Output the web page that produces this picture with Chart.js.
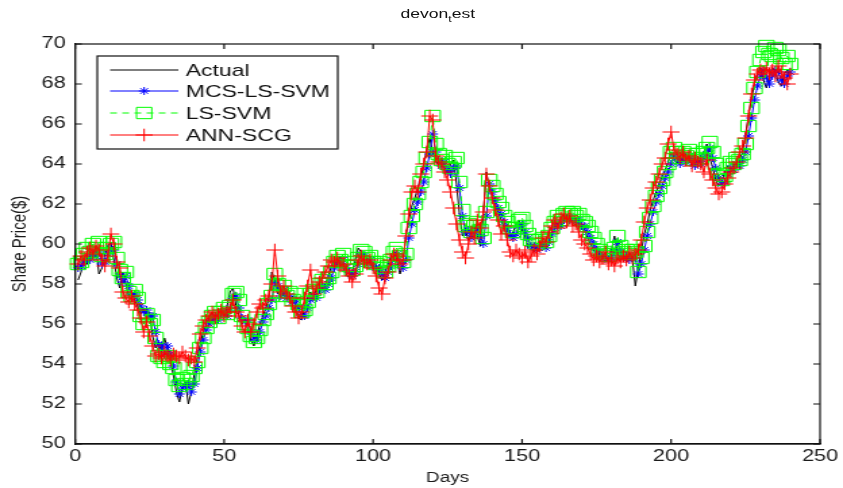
<!DOCTYPE html>
<html>
<head>
<meta charset="utf-8">
<script src="https://cdn.jsdelivr.net/npm/chart.js@4/dist/chart.umd.min.js"></script>
<style>
  html, body { margin: 0; padding: 0; background: #fff; overflow: hidden; }
  #wrap { position: relative; width: 624px; height: 488px; transform: scaleX(1.351); transform-origin: 0 0; }
  #plot { position: absolute; left: 0; top: 0; }
  #title { position: absolute; left: 0; width: 648px; top: 6px; text-align: center;
           font: 13px "Liberation Sans", Arial, sans-serif; color: #111; line-height: 15px; }
  #title sub { font-size: 9px; vertical-align: -4px; }
</style>
</head>
<body>
<div id="wrap">
  <canvas id="plot" width="624" height="488"></canvas>
  <div id="title">devon<sub>t</sub>est</div>
</div>
<script>
// Daily share prices (days 1..240) and the three model forecasts
const actual = [
  58.2, 58.6, 59.3, 59.0, 59.6, 59.3, 59.8, 58.5, 58.8, 59.5,
  59.9, 60.1, 59.2, 58.3, 57.8, 58.6, 58.0, 57.4, 57.6, 57.2,
  56.9, 56.5, 56.8, 56.3, 56.6, 55.4, 54.8, 55.1, 54.6, 55.3,
  54.8, 54.2, 53.4, 52.6, 52.1, 52.8, 53.1, 52.0, 52.6, 53.5,
  54.3, 55.0, 55.6, 56.0, 56.3, 56.6, 56.2, 56.5, 56.8, 56.4,
  56.9, 57.6, 57.8, 56.9, 56.4, 56.0, 56.3, 55.7, 55.2, 54.9,
  55.4, 56.0, 56.4, 56.8, 57.3, 58.6, 58.2, 57.5, 57.9, 57.4,
  57.6, 57.1, 57.4, 56.8, 56.3, 56.2, 56.8, 57.3, 57.6, 57.3,
  57.8, 58.1, 57.7, 58.0, 58.4, 58.9, 59.2, 59.0, 59.4, 58.8,
  58.5, 58.3, 58.6, 59.2, 59.8, 59.6, 59.1, 59.3, 59.0, 58.8,
  58.9, 58.5, 58.2, 58.6, 59.0, 59.4, 59.7, 59.2, 58.5, 59.0,
  60.4, 61.2, 61.9, 62.3, 62.8, 63.3, 64.0, 64.7, 65.3, 64.6,
  64.2, 63.9, 64.3, 63.8, 63.5, 64.0, 64.2, 63.0, 61.5, 60.4,
  60.7, 60.2, 60.6, 60.9, 60.4, 59.9, 61.5, 63.6, 62.8, 62.4,
  62.0, 61.6, 61.2, 60.8, 60.5, 60.3, 60.6, 61.0, 61.2, 60.7,
  60.4, 59.8, 59.9, 59.6, 59.9, 60.1, 59.8, 60.2, 60.6, 60.9,
  61.1, 60.9, 61.3, 61.5, 61.2, 61.4, 61.1, 61.3, 60.9, 61.0,
  60.7, 60.3, 60.0, 59.7, 59.5, 59.3, 59.4, 59.1, 59.3, 59.7,
  60.4, 59.6, 59.2, 59.4, 59.1, 59.5, 59.3, 57.9, 58.8, 59.6,
  60.5, 61.0, 61.7, 62.2, 62.6, 63.0, 63.4, 63.7, 64.1, 64.6,
  64.3, 64.0, 64.4, 64.1, 64.5, 64.2, 63.9, 64.3, 64.0, 64.4,
  64.6, 65.0, 64.3, 63.8, 63.2, 62.9, 63.1, 63.6, 63.9, 63.7,
  64.0, 63.8, 64.2, 64.6, 65.5, 66.4, 67.3, 68.0, 68.5, 68.8,
  68.2, 67.8, 68.4, 68.8, 68.6, 68.1, 67.9, 68.5, 68.7, 68.3
];

const mcsLsSvm = [
  58.8, 58.9, 59.1, 59.3, 59.2, 59.5, 59.4, 59.6, 59.0, 59.1,
  59.5, 59.8, 59.7, 59.0, 58.4, 58.1, 58.4, 57.9, 57.5, 57.5,
  57.2, 56.9, 56.6, 56.7, 56.4, 56.4, 55.6, 55.0, 54.9, 54.5,
  54.9, 54.5, 53.9, 53.1, 52.5, 52.8, 52.9, 53.0, 52.6, 53.0,
  53.8, 54.6, 55.2, 55.7, 56.0, 56.2, 56.4, 56.2, 56.5, 56.6,
  56.4, 56.8, 57.3, 57.4, 56.8, 56.3, 56.1, 56.2, 55.6, 55.3,
  55.2, 55.6, 56.1, 56.4, 56.8, 57.2, 58.1, 57.9, 57.4, 57.7,
  57.3, 57.4, 57.1, 57.2, 56.8, 56.4, 56.4, 56.8, 57.2, 57.4,
  57.3, 57.7, 57.9, 57.7, 58.0, 58.3, 58.8, 59.0, 59.0, 59.2,
  58.8, 58.6, 58.4, 58.6, 59.0, 59.5, 59.4, 59.1, 59.2, 58.9,
  58.8, 58.8, 58.5, 58.3, 58.6, 58.9, 59.3, 59.5, 59.1, 58.8,
  59.2, 60.3, 61.0, 61.7, 62.1, 62.6, 63.1, 63.8, 64.5, 65.5,
  64.6, 64.2, 63.9, 64.1, 63.7, 63.5, 63.8, 63.9, 62.8, 61.4,
  60.6, 60.7, 60.3, 60.6, 60.8, 60.4, 60.0, 61.4, 63.0, 62.6,
  62.2, 61.8, 61.5, 61.1, 60.8, 60.5, 60.3, 60.5, 60.9, 61.0,
  60.6, 60.3, 59.9, 59.9, 59.7, 59.9, 60.0, 59.8, 60.1, 60.5,
  60.8, 61.0, 60.9, 61.2, 61.3, 61.2, 61.3, 61.1, 61.2, 60.9,
  60.9, 60.6, 60.3, 60.0, 59.7, 59.5, 59.3, 59.4, 59.2, 59.3,
  59.6, 60.1, 59.6, 59.3, 59.4, 59.2, 59.4, 59.3, 58.5, 59.0,
  59.7, 60.4, 61.0, 61.6, 62.1, 62.5, 62.9, 63.3, 63.6, 64.0,
  64.4, 64.3, 64.0, 64.3, 64.1, 64.4, 64.2, 63.9, 64.2, 64.0,
  64.3, 64.5, 64.8, 64.3, 63.8, 63.3, 63.0, 63.1, 63.5, 63.8,
  63.7, 64.0, 63.9, 64.2, 64.6, 65.4, 66.3, 67.2, 67.9, 68.4,
  68.7, 68.3, 68.0, 68.4, 68.7, 68.6, 68.2, 68.0, 68.4, 68.6
];

const lsSvm = [
  59.0, 59.1, 59.5, 59.8, 59.6, 60.0, 59.8, 60.1, 59.4, 59.5,
  59.8, 60.0, 60.1, 59.3, 58.7, 58.3, 58.6, 57.6, 57.4, 57.7,
  57.3, 56.4, 56.0, 56.5, 56.0, 56.2, 55.3, 54.4, 54.3, 54.1,
  54.4, 54.0, 53.8, 53.2, 52.9, 53.3, 53.0, 53.2, 53.4, 53.8,
  54.1, 54.8, 55.3, 55.8, 56.1, 56.4, 56.6, 56.3, 56.6, 56.8,
  56.5, 56.9, 57.5, 57.6, 57.2, 56.4, 56.0, 55.8, 55.4, 55.1,
  55.3, 55.7, 56.2, 56.5, 57.0, 57.4, 58.5, 58.0, 57.6, 57.9,
  57.4, 57.6, 57.2, 57.5, 57.0, 56.6, 56.7, 57.1, 57.5, 57.7,
  57.6, 58.0, 58.2, 58.0, 58.3, 58.6, 59.1, 59.4, 59.2, 59.5,
  59.1, 58.9, 58.7, 58.9, 59.3, 59.7, 59.6, 59.3, 59.4, 59.1,
  59.0, 59.1, 58.8, 58.6, 58.9, 59.2, 59.6, 59.8, 59.4, 59.1,
  59.5, 60.8, 61.4, 62.0, 62.5, 63.1, 63.6, 64.3, 65.1, 66.4,
  65.0, 64.5, 64.2, 64.4, 64.0, 63.8, 64.1, 64.3, 63.1, 61.7,
  60.9, 61.0, 60.6, 60.9, 61.1, 60.7, 60.3, 61.6, 63.2, 62.9,
  62.5, 62.1, 61.8, 61.4, 61.1, 60.8, 60.6, 60.8, 61.2, 61.3,
  60.9, 60.5, 60.2, 60.2, 60.0, 60.2, 60.3, 60.1, 60.4, 60.8,
  61.1, 61.4, 61.2, 61.5, 61.6, 61.5, 61.6, 61.4, 61.5, 61.2,
  61.1, 60.9, 60.6, 60.3, 60.0, 59.7, 59.5, 59.6, 59.4, 59.5,
  59.8, 60.4, 59.9, 59.6, 59.7, 59.5, 59.7, 59.6, 58.6, 59.3,
  59.9, 60.6, 61.3, 61.9, 62.4, 62.8, 63.2, 63.6, 64.0, 64.6,
  64.8, 64.6, 64.3, 64.6, 64.4, 64.7, 64.5, 64.2, 64.5, 64.3,
  64.6, 64.8, 65.1, 64.6, 64.0, 63.5, 63.2, 63.4, 63.8, 64.1,
  64.0, 64.3, 64.2, 64.5, 65.0, 65.9, 66.8, 67.8, 68.6, 69.2,
  69.6, 69.9, 69.5, 69.4, 69.8, 69.7, 69.3, 69.0, 69.4, 69.0
];

const annScg = [
  59.0, 59.4, 59.2, 59.6, 59.8, 59.5, 59.9, 59.7, 59.2, 58.9,
  59.4, 60.5, 60.0, 59.1, 58.8, 57.6, 57.3, 57.1, 57.4, 57.0,
  56.7, 56.3, 55.6, 56.1, 55.4, 54.9, 54.4, 54.5, 54.3, 54.6,
  54.4, 54.2, 54.5, 54.4, 54.3, 54.6, 54.4, 54.2, 54.3, 54.1,
  54.8, 55.5, 55.9, 56.2, 56.4, 56.6, 56.3, 56.5, 56.7, 56.4,
  56.6, 56.8, 57.2, 56.6, 56.4, 55.9, 55.6, 56.2, 55.6, 56.0,
  56.6, 57.0, 56.8, 57.2, 57.4, 58.0, 59.7, 58.4, 57.6, 57.9,
  57.5, 57.3, 56.9, 56.6, 56.3, 56.6, 57.3, 57.9, 58.7, 57.5,
  57.8, 58.1, 58.3, 58.6, 58.9, 59.2, 59.1, 59.3, 58.9, 59.0,
  58.7, 58.4, 58.1, 58.5, 59.2, 59.4, 59.1, 59.0, 59.2, 58.8,
  58.4, 57.8, 57.5, 58.3, 58.6, 59.2, 59.5, 59.4, 59.0, 59.2,
  60.4, 61.5, 62.6, 62.9, 62.6, 63.5, 64.0, 64.6, 66.4, 66.2,
  64.4, 64.1, 64.0, 63.6, 63.2, 62.6, 61.8, 61.0, 60.2, 59.6,
  59.3, 60.0, 60.6, 60.3, 61.2, 60.8, 61.6, 63.5, 62.9, 62.3,
  61.7, 61.2, 60.5, 60.9, 60.2, 59.6, 59.4, 59.7, 59.5, 59.3,
  59.6, 59.1, 59.4, 59.7, 59.5, 59.9, 60.3, 60.1, 60.6, 60.9,
  61.2, 60.8, 61.3, 61.5, 61.1, 61.4, 60.9, 61.0, 60.6, 60.2,
  60.0, 59.8, 59.5, 59.2, 59.4, 59.1, 59.3, 59.6, 59.0, 59.2,
  58.9, 59.3, 59.1, 59.4, 59.2, 59.6, 59.3, 59.5, 59.7, 60.2,
  61.1, 61.8, 62.2, 62.8, 63.1, 63.5, 64.0, 64.3, 65.0, 65.6,
  64.7, 64.5, 64.3, 64.6, 64.2, 64.4, 63.9, 64.3, 64.1, 64.0,
  63.6, 64.2, 63.5, 63.2, 62.8, 62.5, 62.6, 63.0, 63.3, 63.6,
  63.8, 64.1, 64.6, 64.9, 65.3, 66.4, 67.5, 68.2, 68.5, 68.7,
  68.6, 68.8, 68.5, 68.7, 68.4, 68.9, 68.6, 68.3, 68.0, 68.5
];

const seriesNames = ['Actual', 'MCS-LS-SVM', 'LS-SVM', 'ANN-SCG'];
const xTicks = [0, 50, 100, 150, 200, 250];
const yTicks = [50, 52, 54, 56, 58, 60, 62, 64, 66, 68, 70];

// day index for each observation
const days = actual.map((_, i) => i + 1);
const toPoints = vals => vals.map((v, i) => ({ x: days[i], y: v }));

const FONT = '"Liberation Sans", Arial, sans-serif';

const styles = [
  { color: '#000000', pointStyle: false, radius: 0, dash: [] },
  { color: '#0000ff', pointStyle: 'star', radius: 4, dash: [] },
  { color: '#00ff00', pointStyle: 'rect', radius: 8, dash: [5, 4] },
  { color: '#ff0000', pointStyle: 'cross', radius: 6.3, dash: [] }
];
const values = [actual, mcsLsSvm, lsSvm, annScg];

const datasets = values.map((vals, i) => ({
  label: seriesNames[i],
  data: toPoints(vals),
  borderColor: styles[i].color,
  backgroundColor: 'rgba(0,0,0,0)',
  borderWidth: 1,
  borderDash: styles[i].dash,
  pointStyle: styles[i].pointStyle,
  pointRadius: styles[i].radius,
  pointBorderColor: styles[i].color,
  pointBackgroundColor: 'rgba(0,0,0,0)',
  pointBorderWidth: 1,
  pointHoverRadius: styles[i].radius,
  tension: 0,
  fill: false,
  clip: false,
  order: 4 - i
}));

// closed box with inward tick marks on all four sides
const framePlugin = {
  id: 'frame',
  afterDatasetsDraw(chart) {
    const { ctx, chartArea: a, scales: { x, y } } = chart;
    ctx.save();
    ctx.strokeStyle = '#111';
    ctx.lineWidth = 1.2;
    ctx.strokeRect(a.left, a.top, a.right - a.left, a.bottom - a.top);
    ctx.beginPath();
    x.ticks.forEach(t => {
      const px = x.getPixelForValue(t.value);
      ctx.moveTo(px, a.bottom); ctx.lineTo(px, a.bottom - 5);
      ctx.moveTo(px, a.top); ctx.lineTo(px, a.top + 5);
    });
    y.ticks.forEach(t => {
      const py = y.getPixelForValue(t.value);
      ctx.moveTo(a.left, py); ctx.lineTo(a.left + 5, py);
      ctx.moveTo(a.right, py); ctx.lineTo(a.right - 5, py);
    });
    ctx.stroke();
    ctx.restore();
  }
};

// boxed legend in the upper-left corner of the plot
const legendPlugin = {
  id: 'boxLegend',
  afterDraw(chart) {
    const ctx = chart.ctx;
    const box = { x: 72, y: 56, w: 178, h: 93 };
    const rows = [70, 91, 113, 135];
    ctx.save();
    ctx.fillStyle = '#fff';
    ctx.fillRect(box.x, box.y, box.w, box.h);
    ctx.strokeStyle = '#111';
    ctx.lineWidth = 1.2;
    ctx.strokeRect(box.x, box.y, box.w, box.h);
    chart.data.datasets.forEach((ds, i) => {
      const yy = rows[i];
      ctx.strokeStyle = ds.borderColor;
      ctx.lineWidth = 1;
      ctx.setLineDash(ds.borderDash || []);
      ctx.beginPath();
      ctx.moveTo(81.5, yy); ctx.lineTo(132, yy);
      ctx.stroke();
      ctx.setLineDash([]);
      if (ds.pointStyle) {
        ctx.strokeStyle = ds.pointBorderColor;
        ctx.fillStyle = 'rgba(0,0,0,0)';
        Chart.helpers.drawPoint(ctx, {
          pointStyle: ds.pointStyle, radius: ds.pointRadius, rotation: 0, borderWidth: 1
        }, 106.7, yy);
      }
      ctx.fillStyle = '#111';
      ctx.font = '17px ' + FONT;
      ctx.textBaseline = 'middle';
      ctx.textAlign = 'left';
      ctx.fillText(ds.label, 137.5, yy + 1);
    });
    ctx.restore();
  }
};

new Chart(document.getElementById('plot'), {
  type: 'line',
  data: { datasets },
  options: {
    responsive: false,
    animation: false,
    events: [],
    layout: { padding: { top: 44, right: 17, left: 0, bottom: 0 } },
    plugins: { legend: { display: false }, tooltip: { enabled: false }, title: { display: false } },
    scales: {
      x: {
        type: 'linear',
        min: xTicks[0], max: xTicks[xTicks.length - 1],
        afterBuildTicks: s => { s.ticks = xTicks.map(v => ({ value: v })); },
        afterFit: s => { s.height = 44; },
        grid: { display: false, drawTicks: false },
        border: { display: true, color: '#111', width: 1.2 },
        ticks: { color: '#1a1a1a', font: { family: FONT, size: 16 }, padding: 3, maxRotation: 0 },
        title: { display: true, text: 'Days', color: '#1a1a1a', font: { family: FONT, size: 14 }, padding: { top: 0, bottom: 1 } }
      },
      y: {
        type: 'linear',
        min: yTicks[0], max: yTicks[yTicks.length - 1],
        afterBuildTicks: s => { s.ticks = yTicks.map(v => ({ value: v })); },
        afterFit: s => { s.width = 55.6; },
        grid: { display: false, drawTicks: false },
        border: { display: true, color: '#111', width: 1.2 },
        ticks: { color: '#1a1a1a', font: { family: FONT, size: 16 }, padding: 7 },
        title: { display: true, text: 'Share Price($)', color: '#1a1a1a', font: { family: FONT, size: 15 }, padding: { top: 6, bottom: 0 } }
      }
    }
  },
  plugins: [framePlugin, legendPlugin]
});
</script>
</body>
</html>
